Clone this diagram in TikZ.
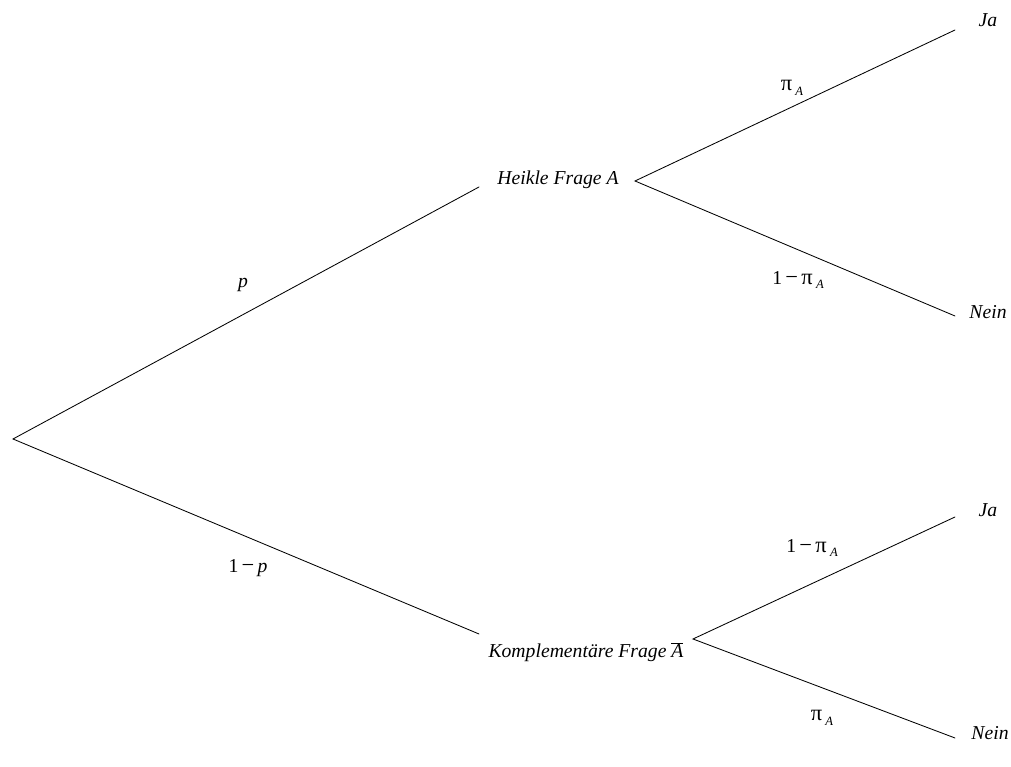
\documentclass[tikz,border=0pt]{standalone}
\usepackage{fontspec}
\setmainfont{Liberation Serif}
\usetikzlibrary{positioning}
\newcommand{\piA}{{\fontsize{16}{16}\selectfont π}\,\raisebox{-0.55ex}{\fontsize{9}{10}\selectfont\itshape A}}
\newcommand{\Abar}{$\overline{\mbox{\itshape A}}$}
\newcommand{\minus}{\,{\fontsize{16}{16}\selectfont −}\,}
\tikzset{
	branch/.style={line width=0.6pt},
	frage/.style={font=\itshape\fontsize{14}{16}\selectfont, inner sep=0pt},
	antwort/.style={font=\itshape\fontsize{14}{16}\selectfont, inner sep=0pt},
	wkeit/.style={font=\fontsize{14}{16}\selectfont, inner sep=0pt}
}

\begin{document}
\begin{tikzpicture}[line cap=round]
				\useasboundingbox (0,0) rectangle (25.275,19.175);
				% Wurzel und Enden der Aeste
				\coordinate (root) at (0.325,8.2);
				\coordinate (heikle-in) at (11.975,14.5);
				\coordinate (heikle-out) at (15.875,14.65);
				\coordinate (komp-in) at (11.975,3.325);
				\coordinate (komp-out) at (17.325,3.2);
				\coordinate (ja1-in) at (23.875,18.425);
				\coordinate (nein1-in) at (23.875,11.275);
				\coordinate (ja2-in) at (23.875,6.25);
				\coordinate (nein2-in) at (23.875,0.725);
				% Fragen
				\node[frage] (heikle) at (13.95,14.675) {Heikle Frage A};
				\node[frage] (komp) at (14.65,2.875) {Komplementäre Frage \Abar};
				% Antworten
				\node[antwort] (ja1) at (24.7,18.675) {Ja};
				\node[antwort] (nein1) at (24.7,11.375) {Nein};
				\node[antwort] (ja2) at (24.7,6.425) {Ja};
				\node[antwort] (nein2) at (24.75,0.85) {Nein};
				% Aeste
				\draw[branch] (heikle-in) -- (root) -- (komp-in);
				\draw[branch] (ja1-in) -- (heikle-out) -- (nein1-in);
				\draw[branch] (ja2-in) -- (komp-out) -- (nein2-in);
				% Wahrscheinlichkeiten
				\node[wkeit] (p) at (6.075,12.05) {\itshape p};
				\node[wkeit] (q) at (6.2,4.975) {1\minus\textit{p}};
				\node[wkeit] (pa1) at (19.8,16.975) {\piA};
				\node[wkeit] (qa1) at (19.95,12.175) {1\minus\piA};
				\node[wkeit] (qa2) at (20.3,5.475) {1\minus\piA};
				\node[wkeit] (pa2) at (20.55,1.225) {\piA};
			\end{tikzpicture}
\end{document}
